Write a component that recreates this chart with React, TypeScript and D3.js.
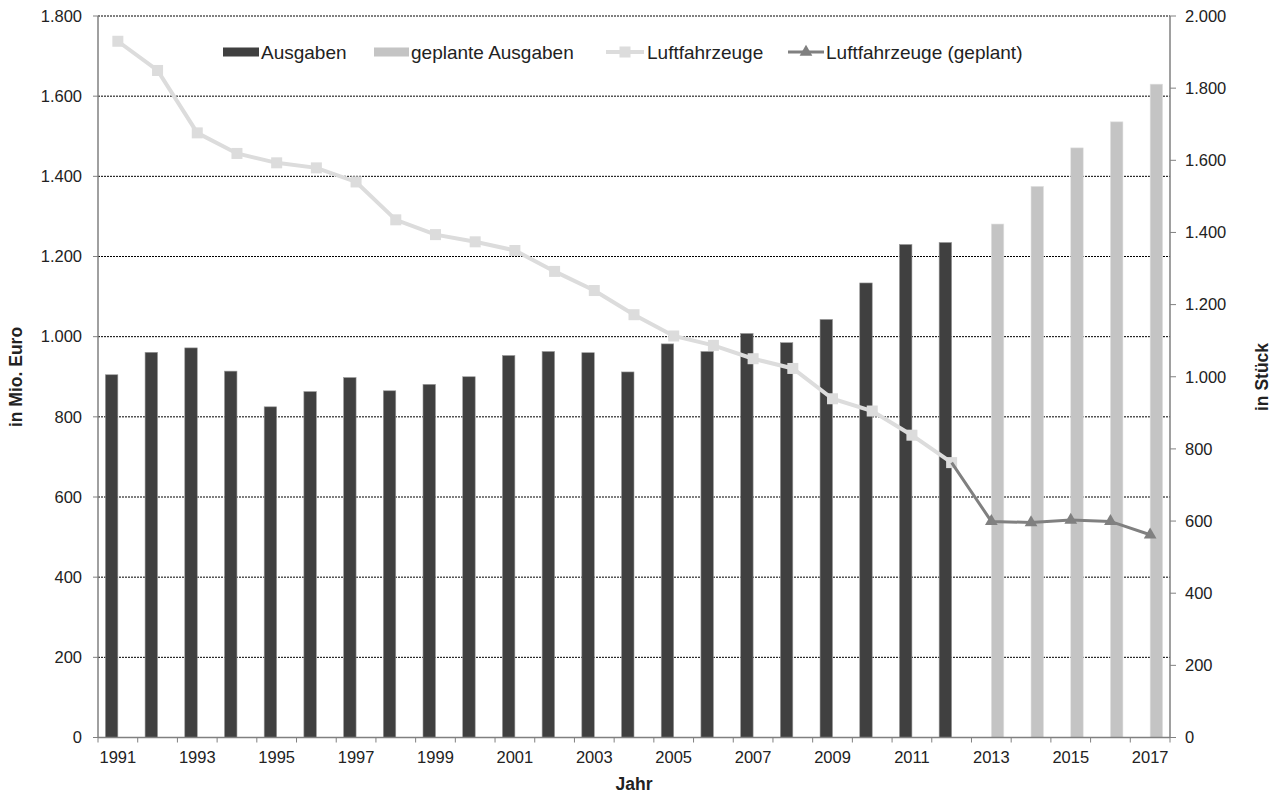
import React from "react";
import * as d3 from "d3";

const years: string[] = [
  "1991","1992","1993","1994","1995","1996","1997","1998","1999","2000",
  "2001","2002","2003","2004","2005","2006","2007","2008","2009","2010",
  "2011","2012","2013","2014","2015","2016","2017",
];
const ausgabenYears: string[] = years.slice(0, 22);
const ausgaben: number[] = [905, 961, 972, 914, 825, 863, 898, 865, 881, 900, 953, 963, 960, 912, 982, 963, 1008, 985, 1043, 1134, 1230, 1235];
const geplantYears: string[] = ["2013", "2014", "2015", "2016", "2017"];
const geplanteAusgaben: number[] = [1281, 1375, 1471, 1536, 1630];
const luftYears: string[] = years.slice(0, 22);
const luftfahrzeuge: number[] = [1930, 1849, 1676, 1619, 1593, 1579, 1540, 1435, 1394, 1374, 1350, 1292, 1239, 1172, 1113, 1087, 1050, 1023, 939, 905, 838, 762];
const luftPlanYears: string[] = ["2012", "2013", "2014", "2015", "2016", "2017"];
const luftfahrzeugePlan: number[] = [762, 599, 596, 603, 599, 562];
const leftTicks: number[] = [0, 200, 400, 600, 800, 1000, 1200, 1400, 1600, 1800];
const rightTicks: number[] = [0, 200, 400, 600, 800, 1000, 1200, 1400, 1600, 1800, 2000];
const yearLabels: string[] = years.filter((_, i) => i % 2 === 0);
const legendLabels: string[] = ["Ausgaben", "geplante Ausgaben", "Luftfahrzeuge", "Luftfahrzeuge (geplant)"];

const W = 1273, H = 794;
const M = { left: 98, right: 1170, top: 16, bottom: 737.5 };
const FONT = "'Liberation Sans', Arial, Helvetica, sans-serif";
const DARK = "#404040", LIGHTBAR = "#c4c4c4", LINE1 = "#dcdcdc", LINE2 = "#808080", AXIS = "#808080";

const fmt = (v: number) => d3.format(",")(v).replace(/,/g, ".");

export default function App() {
  const x = d3.scaleBand<string>().domain(years).range([M.left, M.right]).padding(0);
  const bw = x.bandwidth();
  const x1 = d3.scaleBand<string>().domain(["a", "g"]).range([0, bw]).paddingInner(0).paddingOuter(0.59);
  const yL = d3.scaleLinear().domain([0, 1800]).range([M.bottom, M.top]);
  const yR = d3.scaleLinear().domain([0, 2000]).range([M.bottom, M.top]);
  const cx = (yr: string) => (x(yr) as number) + bw / 2;

  const line1 = d3.line<number>().x((_, i) => cx(luftYears[i])).y((d) => yR(d));
  const line2 = d3.line<number>().x((_, i) => cx(luftPlanYears[i])).y((d) => yR(d));
  const sq = 11;
  const tri = d3.symbol().type(d3.symbolTriangle).size(70)() as string;

  const boundaries = d3.range(years.length + 1).map((i) => M.left + i * bw);

  const legendY = 52;
  return (
    <svg width={W} height={H} style={{ position: "absolute", left: 0, top: 0, background: "#fff" }} fontFamily={FONT}>
      {/* gridlines */}
      {leftTicks.filter((t) => t > 0).map((t) => (
        <line key={"g" + t} x1={M.left} x2={M.right} y1={yL(t)} y2={yL(t)} stroke="#000" strokeWidth={1} strokeDasharray="2,1" />
      ))}
      {/* bars */}
      {ausgaben.map((v, i) => {
        const yr = ausgabenYears[i];
        return (
          <rect key={"a" + yr} x={(x(yr) as number) + (x1("a") as number)} width={x1.bandwidth()} y={yL(v)} height={yL(0) - yL(v)} fill={DARK} stroke="#9a9a9a" strokeWidth={0.6} />
        );
      })}
      {geplanteAusgaben.map((v, i) => {
        const yr = geplantYears[i];
        return (
          <rect key={"p" + yr} x={(x(yr) as number) + (x1("g") as number)} width={x1.bandwidth()} y={yL(v)} height={yL(0) - yL(v)} fill={LIGHTBAR} stroke="#e2e2e2" strokeWidth={0.6} />
        );
      })}
      {/* axes */}
      <line x1={M.left} x2={M.left} y1={M.top} y2={M.bottom} stroke={AXIS} strokeWidth={1.5} />
      <line x1={M.right} x2={M.right} y1={M.top} y2={M.bottom} stroke={AXIS} strokeWidth={1.5} />
      <line x1={M.left} x2={M.right} y1={M.bottom} y2={M.bottom} stroke={AXIS} strokeWidth={1.5} />
      {leftTicks.map((t) => (
        <g key={"lt" + t}>
          <line x1={M.left - 5} x2={M.left} y1={yL(t)} y2={yL(t)} stroke={AXIS} strokeWidth={1} />
          <text x={82} y={yL(t)} dy="0.35em" textAnchor="end" fontSize={16.5} fill="#222">{fmt(t)}</text>
        </g>
      ))}
      {rightTicks.map((t) => (
        <g key={"rt" + t}>
          <line x1={M.right} x2={M.right + 6} y1={yR(t)} y2={yR(t)} stroke={AXIS} strokeWidth={1} />
          <text x={1185} y={yR(t)} dy="0.35em" textAnchor="start" fontSize={16.5} fill="#222">{fmt(t)}</text>
        </g>
      ))}
      {boundaries.map((b, i) => (
        <line key={"xt" + i} x1={b} x2={b} y1={M.bottom} y2={M.bottom + 5} stroke={AXIS} strokeWidth={1} />
      ))}
      {yearLabels.map((yr) => (
        <text key={"yl" + yr} x={cx(yr)} y={757} dy="0.35em" textAnchor="middle" fontSize={16.5} fill="#222">{yr}</text>
      ))}
      {/* lines */}
      <path d={line1(luftfahrzeuge) as string} fill="none" stroke={LINE1} strokeWidth={4} />
      {luftfahrzeuge.map((v, i) => (
        <rect key={"m" + i} x={cx(luftYears[i]) - sq / 2} y={yR(v) - sq / 2} width={sq} height={sq} fill={LINE1} />
      ))}
      <path d={line2(luftfahrzeugePlan) as string} fill="none" stroke={LINE2} strokeWidth={3} />
      {luftfahrzeugePlan.slice(1).map((v, i) => (
        <path key={"t" + i} d={tri} transform={`translate(${cx(luftPlanYears[i + 1])},${yR(v)})`} fill={LINE2} />
      ))}
      {/* legend */}
      <g fontSize={19} fill="#222">
        <rect x={223} y={legendY - 4.5} width={36} height={9} fill={DARK} />
        <text x={261} y={legendY} dy="0.35em">{legendLabels[0]}</text>
        <rect x={374} y={legendY - 4.5} width={35} height={9} fill={LIGHTBAR} />
        <text x={411} y={legendY} dy="0.35em">{legendLabels[1]}</text>
        <line x1={606} x2={644} y1={legendY} y2={legendY} stroke={LINE1} strokeWidth={4} />
        <rect x={625 - sq / 2} y={legendY - sq / 2} width={sq} height={sq} fill={LINE1} />
        <text x={647} y={legendY} dy="0.35em">{legendLabels[2]}</text>
        <line x1={788} x2={824} y1={legendY} y2={legendY} stroke={LINE2} strokeWidth={3} />
        <path d={tri} transform={`translate(806,${legendY})`} fill={LINE2} />
        <text x={826} y={legendY} dy="0.35em">{legendLabels[3]}</text>
      </g>
      {/* axis titles */}
      <text transform={`translate(16,377) rotate(-90)`} dy="0.35em" textAnchor="middle" fontSize={17.5} fontWeight="bold" fill="#222">in Mio. Euro</text>
      <text transform={`translate(1262,377) rotate(-90)`} dy="0.35em" textAnchor="middle" fontSize={17.5} fontWeight="bold" fill="#222">in Stück</text>
      <text x={(M.left + M.right) / 2} y={784} dy="0.35em" textAnchor="middle" fontSize={17.5} fontWeight="bold" fill="#222">Jahr</text>
    </svg>
  );
}
